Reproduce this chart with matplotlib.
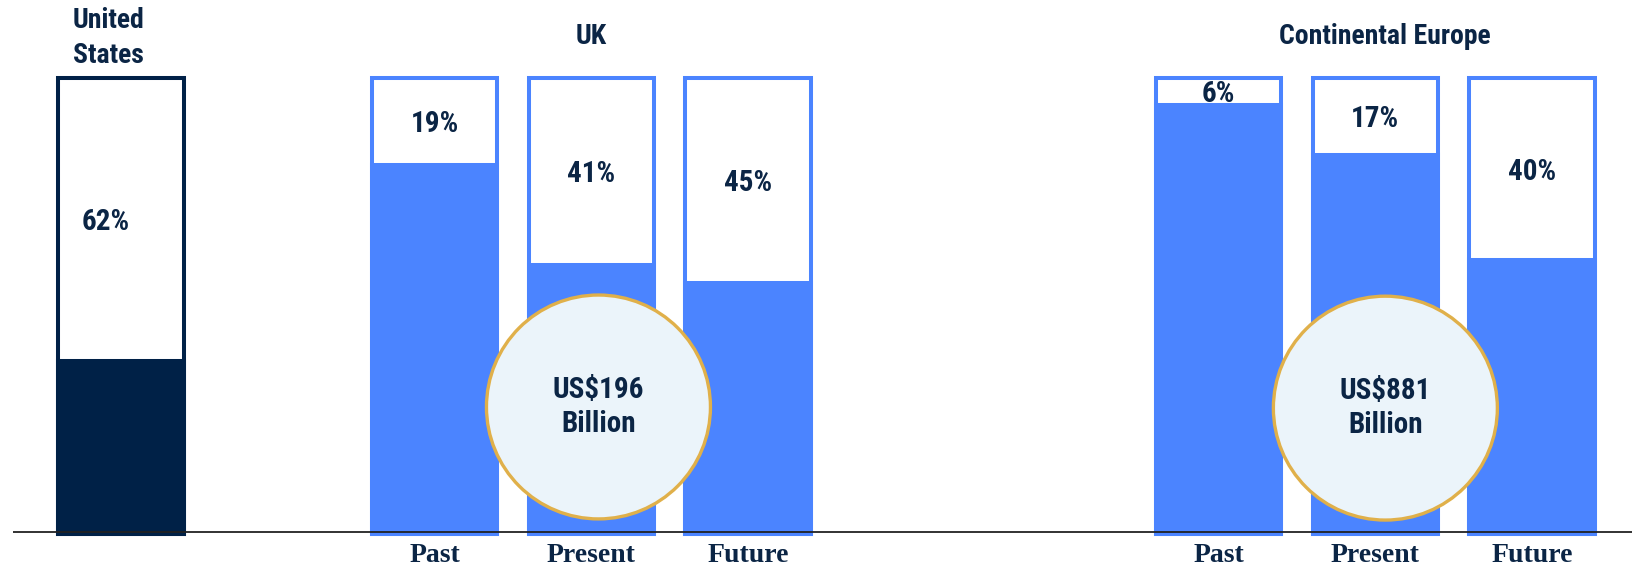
import os
import matplotlib
matplotlib.use("Agg")
import matplotlib.pyplot as plt
from matplotlib import font_manager
from matplotlib.patches import Ellipse

# ── Data ─────────────────────────────────────────────────────
periods   = ["Past", "Present", "Future"]
us_label  = "United\nStates"
us_pct    = 62
uk_label  = "UK"
uk_pct    = [19, 41, 45]
ce_label  = "Continental Europe"
ce_pct    = [6, 17, 40]
uk_market = "US$196\nBillion"
ce_market = "US$881\nBillion"

# ── Style ────────────────────────────────────────────────────
NAVY   = "#002147"
TEXT   = "#0B2545"
BLUE   = "#4B84FF"
GOLD   = "#E0B04A"
BUBBLE = "#EBF4FA"
SERIF  = ["Liberation Serif", "DejaVu Serif"]

# Arial-Narrow-like bold face, first one found wins
PREFERRED = ["LiberationSansNarrow-Bold.ttf", "ArialNarrow-Bold.ttf", "ArchivoNarrow-Bold.ttf",
             "RobotoCondensed-Bold.ttf", "PTSansNarrow-Bold.ttf", "PT_Sans-Narrow-Web-Bold.ttf",
             "NotoSans-CondensedBold.ttf"]
files = {os.path.basename(f.fname): f.fname for f in font_manager.fontManager.ttflist}
narrow = next((files[n] for n in PREFERRED if n in files), None)

if narrow:
    def sans(size):
        return font_manager.FontProperties(fname=narrow, size=size)
    VAL, HEAD = 21, 20
else:
    def sans(size):
        return font_manager.FontProperties(family="Liberation Sans", weight="bold", size=size)
    VAL, HEAD = 18.5, 18

x_us = 0
x_uk = [2, 3, 4]
x_ce = [7, 8, 9]
width = 0.80
lw = 2.9

fig = plt.figure(figsize=(16.32, 5.70), dpi=100)
ax = fig.add_axes([0, 0, 1, 1])
ax.set_xlim(-0.772, 9.637)
ax.set_ylim(-7.9, 117.1)
ax.axis("off")


def share_bar(x, pct, color):
    # outlined full-height frame, coloured part below, white share on top
    ax.bar(x, 100, width=width, facecolor="white", edgecolor=color, linewidth=lw, zorder=2)
    ax.bar(x, 100 - pct, width=width, facecolor=color, edgecolor=color, linewidth=lw, zorder=3)


# United States
share_bar(x_us, us_pct, NAVY)
ax.text(x_us - 0.1, 100 - us_pct / 2 - 0.6, f"{us_pct}%", ha="center", va="center",
        fontproperties=sans(VAL), color=TEXT, zorder=5)
ax.text(x_us - 0.08, 108.7, us_label, ha="center", va="center",
        fontproperties=sans(HEAD), color=TEXT, linespacing=1.38)

# UK and Continental Europe
for xs, pcts in [(x_uk, uk_pct), (x_ce, ce_pct)]:
    for x, p in zip(xs, pcts):
        share_bar(x, p, BLUE)
        ax.text(x, 100 - p / 2 - 0.6, f"{p}%", ha="center", va="center",
                fontproperties=sans(VAL), color=TEXT, zorder=5)
    for x, name in zip(xs, periods):
        ax.text(x, -4.8, name, ha="center", va="center", fontsize=20,
                fontweight="bold", color=TEXT, family=SERIF)

ax.text(x_uk[1], 109, uk_label, ha="center", va="center",
        fontproperties=sans(HEAD), color=TEXT)
ax.text(x_ce[1] + 0.06, 109, ce_label, ha="center", va="center",
        fontproperties=sans(HEAD), color=TEXT)

# market size bubbles over the "Present" bars
for cx, cy, label in [(x_uk[1] + 0.045, 27.85, uk_market), (x_ce[1] + 0.064, 27.6, ce_market)]:
    ax.add_patch(Ellipse((cx, cy), width=1.4286, height=49.1, facecolor=BUBBLE,
                         edgecolor=GOLD, linewidth=2.4, zorder=6))
    ax.text(cx, cy, label, ha="center", va="center", fontproperties=sans(VAL),
            color=TEXT, linespacing=1.28, zorder=7)

# baseline
ax.plot([-0.69, 9.637], [0.44, 0.44], color="#222222", linewidth=1.3, zorder=4,
        solid_capstyle="butt")

plt.savefig("out.png", dpi=100)
